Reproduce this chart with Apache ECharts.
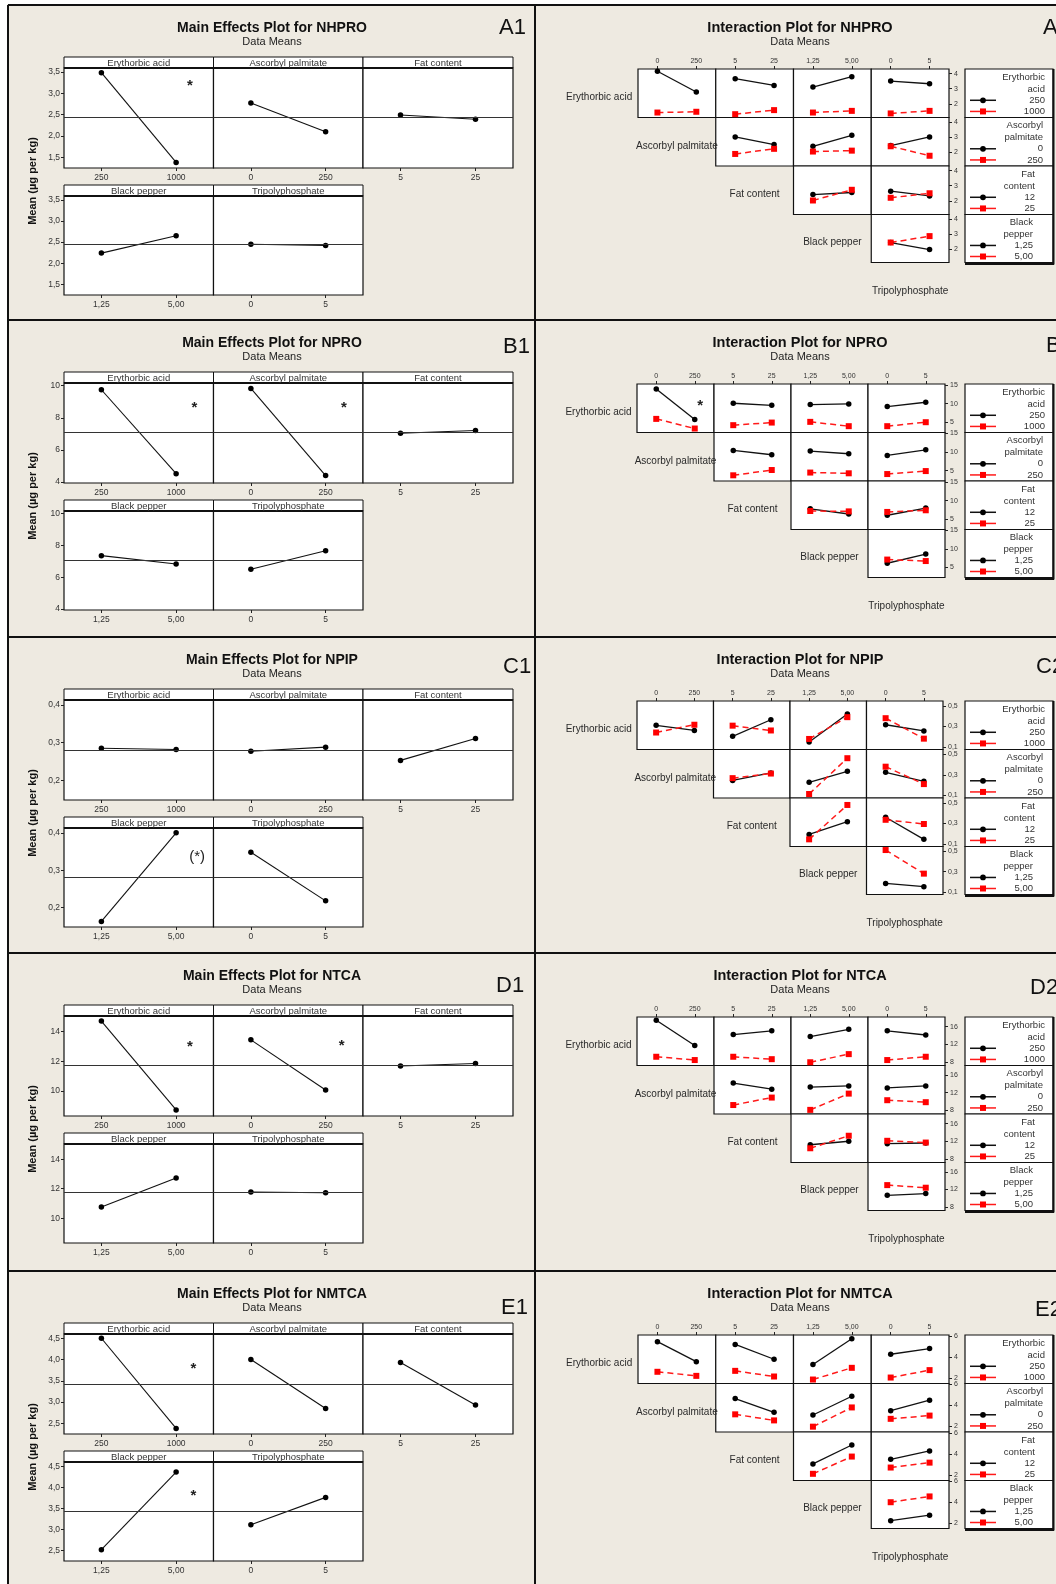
<!DOCTYPE html>
<html>
<head>
<meta charset="utf-8">
<script src="https://cdn.jsdelivr.net/npm/echarts@6/dist/echarts.min.js"></script>
<style>
html,body{margin:0;padding:0;background:#fff;}
#chart{width:1056px;height:1584px;}
</style>
</head>
<body>
<div id="chart"></div>
<script>
// ---------- data ----------
const responses = ['NHPRO', 'NPRO', 'NPIP', 'NTCA', 'NMTCA'];
const panelTags = [['A1', 'A2'], ['B1', 'B2'], ['C1', 'C2'], ['D1', 'D2'], ['E1', 'E2']];
const factorNames = ['Erythorbic acid', 'Ascorbyl palmitate', 'Fat content', 'Black pepper', 'Tripolyphosphate'];
const factorLevels = [['250', '1000'], ['0', '250'], ['5', '25'], ['1,25', '5,00'], ['0', '5']];
const legendTitles = [['Erythorbic', 'acid'], ['Ascorbyl', 'palmitate'], ['Fat', 'content'], ['Black', 'pepper']];
const legendLevels = [['250', '1000'], ['0', '250'], ['12', '25'], ['1,25', '5,00']];
// factor pairs (row factor, column factor) of the interaction matrix
const pairs = [[0, 1], [0, 2], [0, 3], [0, 4], [1, 2], [1, 3], [1, 4], [2, 3], [2, 4], [3, 4]];

// main effects: mean at low / high level of each factor
const mainNHPRO = [[3.48, 1.38], [2.77, 2.10], [2.49, 2.39], [2.24, 2.65], [2.45, 2.42]];
const mainNPRO  = [[9.75, 4.52], [9.83, 4.40], [7.04, 7.21], [7.36, 6.83], [6.51, 7.67]];
const mainNPIP  = [[0.285, 0.282], [0.277, 0.288], [0.253, 0.311], [0.163, 0.400], [0.348, 0.218]];
const mainNTCA  = [[14.69, 8.73], [13.43, 10.07], [11.68, 11.84], [10.76, 12.73], [11.78, 11.73]];
const mainNMTCA = [[4.50, 2.38], [4.00, 2.85], [3.93, 2.93], [2.52, 4.36], [3.11, 3.76]];
const grandMeans = [2.44, 7.10, 0.283, 11.75, 3.43];

// interaction means per pair: [low level of row factor], [high level of row factor]
const interNHPRO = [
  [[4.16, 2.78], [1.42, 1.47]], [[3.67, 3.22], [1.31, 1.58]], [[3.11, 3.80], [1.42, 1.53]], [[3.51, 3.33], [1.36, 1.53]],
  [[3.02, 2.51], [1.89, 2.23]], [[2.40, 3.13], [2.05, 2.11]], [[2.45, 3.02], [2.40, 1.77]],
  [[2.41, 2.55], [2.02, 2.73]], [[2.64, 2.32], [2.20, 2.50]],
  [[2.43, 1.96], [2.43, 2.86]]
];
const interNPRO = [
  [[13.93, 5.71], [5.89, 3.30]], [[10.09, 9.55], [4.20, 4.90]], [[9.73, 9.90], [5.09, 3.93]], [[9.20, 10.36], [3.93, 5.00]],
  [[10.44, 9.29], [3.76, 5.18]], [[10.27, 9.56], [4.50, 4.30]], [[9.10, 10.60], [4.10, 4.90]],
  [[7.80, 6.40], [7.20, 7.10]], [[6.06, 8.00], [6.95, 7.40]],
  [[6.10, 8.60], [7.10, 6.70]]
];
const interNPIP = [
  [[0.310, 0.260], [0.240, 0.316]], [[0.203, 0.365], [0.307, 0.260]], [[0.148, 0.420], [0.177, 0.390]], [[0.316, 0.255], [0.380, 0.180]],
  [[0.246, 0.319], [0.268, 0.313]], [[0.227, 0.335], [0.113, 0.463]], [[0.325, 0.237], [0.380, 0.210]],
  [[0.192, 0.316], [0.144, 0.480]], [[0.360, 0.144], [0.335, 0.294]],
  [[0.183, 0.151], [0.513, 0.280]]
];
const interNTCA = [
  [[17.45, 11.70], [9.15, 8.40]], [[14.20, 15.05], [9.15, 8.60]], [[13.75, 15.40], [7.90, 9.75]], [[15.05, 14.10], [8.40, 9.15]],
  [[14.20, 12.80], [9.20, 10.90]], [[13.30, 13.55], [8.10, 11.80]], [[13.10, 13.55], [10.30, 9.85]],
  [[11.20, 12.00], [10.40, 13.25]], [[11.45, 11.60], [12.10, 11.70]],
  [[10.65, 11.05], [13.00, 12.40]]
];
const interNMTCA = [
  [[5.46, 3.55], [2.58, 2.19]], [[5.20, 3.78], [2.67, 2.13]], [[3.28, 5.74], [1.84, 2.96]], [[4.26, 4.80], [2.03, 2.74]],
  [[4.66, 3.34], [3.15, 2.57]], [[3.09, 4.88], [1.97, 3.81]], [[3.50, 4.50], [2.72, 3.03]],
  [[3.05, 4.86], [2.10, 3.75]], [[3.49, 4.29], [2.70, 3.17]],
  [[2.22, 2.75], [4.00, 4.56]]
];

const mainData = [mainNHPRO, mainNPRO, mainNPIP, mainNTCA, mainNMTCA];
const interData = [interNHPRO, interNPRO, interNPIP, interNTCA, interNMTCA];

// axis extents and tick labels
const mainRange = [[1.25, 3.59], [3.94, 10.17], [0.148, 0.413], [8.32, 15.03], [2.25, 4.60]];
const mainTicks = [[1.5, 2, 2.5, 3, 3.5], [4, 6, 8, 10], [0.2, 0.3, 0.4], [10, 12, 14], [2.5, 3, 3.5, 4, 4.5]];
const mainDecimals = [1, 0, 1, 0, 1];
const interRange = [[1.09, 4.31], [2.23, 15.27], [0.074, 0.548], [7.16, 18.2], [1.46, 6.10]];
const interTicks = [[2, 3, 4], [5, 10, 15], [0.1, 0.3, 0.5], [8, 12, 16], [2, 4, 6]];
const interDecimals = [0, 0, 1, 0, 0];

// significance markers: [response, factor, text]
const sigMain = [[0, 0, '*'], [1, 0, '*'], [1, 1, '*'], [2, 3, '(*)'], [3, 0, '*'], [3, 1, '*'], [4, 0, '*'], [4, 3, '*']];
// [response, pair index, text]
const sigInter = [[1, 0, '*']];

// ---------- layout ----------
const FONT = '"Liberation Sans", Arial, sans-serif';
const ROW_OFF = [0, 315, 632, 948, 1266];
const FRAME_X = [8, 535];
const ME_X = [64, 213.5, 363, 513];
const ME_ROWS = [{ head: 57, top: 68, bottom: 168 }, { head: 185, top: 196, bottom: 295 }];
const IX_LR = [[638, 949], [637, 945], [637, 943], [637, 945], [638, 949]];
const IX_Y = [69, 117.5, 166, 214.5, 262.5];
const LEG_X = [965, 1053];
const LEG_RIGHT = [1045, 1043, 1035, 1033];
const TAG_POS = [[[499, 28], [1043, 28]], [[503, 32], [1046, 31]], [[503, 35], [1036, 35]], [[496, 38], [1030, 40]], [[501, 42], [1035, 44]]];
const SIG_MAIN_POS = [[0.843, 14], [0.873, 21], [0.873, 21], [0.89, 29], [0.843, 27], [0.857, 26], [0.866, 31], [0.866, 30]];
const SIG_INTER_POS = [[0.82, 18]];

const grid = [], xAxis = [], yAxis = [], series = [], graphic = [];

function text(x, y, str, font, opts) {
  opts = opts || {};
  graphic.push({
    type: 'text', x: x, y: y, rotation: opts.rotation || 0, z: opts.z || 60, silent: true,
    style: { text: str, font: font, fill: opts.fill || '#1a1a1a', align: opts.align || 'center', verticalAlign: opts.valign || 'middle' }
  });
}
function rect(x, y, w, h, fill, stroke, lw, z) {
  graphic.push({ type: 'rect', z: z || 40, silent: true, shape: { x: x, y: y, width: w, height: h }, style: { fill: fill, stroke: stroke, lineWidth: lw } });
}
function line(x1, y1, x2, y2, stroke, lw, z, dash) {
  graphic.push({ type: 'line', z: z || 80, silent: true, shape: { x1: x1, y1: y1, x2: x2, y2: y2 }, style: { stroke: stroke, lineWidth: lw, lineDash: dash || null } });
}
function addGrid(left, top, width, height) {
  grid.push({ left: left, top: top, width: width, height: height, show: true, backgroundColor: '#fff', borderColor: '#111', borderWidth: 1.2, containLabel: false, outerBoundsMode: 'none' });
  return grid.length - 1;
}
const fmt = (v, d) => v.toFixed(d).replace('.', ',');

// ---------- main effects panels ----------
function mainPanel(r, f) {
  const off = ROW_OFF[r];
  const rowL = f < 3 ? ME_ROWS[0] : ME_ROWS[1];
  const col = f < 3 ? f : f - 3;
  const left = ME_X[col], width = ME_X[col + 1] - ME_X[col];
  const top = off + rowL.top, height = rowL.bottom - rowL.top;
  const gi = addGrid(left, top, width, height);
  const showY = col === 0;
  xAxis.push({
    type: 'category', gridIndex: gi, data: factorLevels[f], boundaryGap: true,
    axisLine: { show: false }, splitLine: { show: false },
    axisTick: { show: true, alignWithLabel: true, length: 3, lineStyle: { color: '#222' } },
    axisLabel: { fontSize: 8.5, color: '#333', margin: 5, fontFamily: FONT }
  });
  yAxis.push({
    type: 'value', gridIndex: gi, min: mainRange[r][0], max: mainRange[r][1],
    axisLine: { show: false }, splitLine: { show: false },
    axisTick: { show: showY, length: 3, customValues: mainTicks[r], lineStyle: { color: '#222' } },
    axisLabel: { show: showY, customValues: mainTicks[r], fontSize: 8.5, color: '#333', margin: 4, fontFamily: FONT,
      formatter: v => fmt(v, mainDecimals[r]) }
  });
  series.push({
    type: 'line', xAxisIndex: gi, yAxisIndex: gi, data: mainData[r][f],
    symbol: 'circle', symbolSize: 5.5, showSymbol: true,
    lineStyle: { color: '#111', width: 1.1 }, itemStyle: { color: '#000' },
    markLine: { silent: true, symbol: 'none', label: { show: false }, animation: false,
      lineStyle: { color: '#333', width: 1.1, type: 'solid' }, data: [{ yAxis: grandMeans[r] }] }
  });
  // factor header strip
  rect(left, off + rowL.head, width, rowL.top - rowL.head, '#fff', '#111', 1, 45);
  line(left, off + rowL.top, left + width, off + rowL.top, '#111', 1.8, 46);
  text(left + width / 2, off + (rowL.head + rowL.top) / 2 + 0.5, factorNames[f], '9.5px ' + FONT, { fill: '#333' });
}

// ---------- interaction matrix ----------
function interPanel(r, k) {
  const off = ROW_OFF[r];
  const [i, j] = pairs[k];
  const L = IX_LR[r][0], cw = (IX_LR[r][1] - IX_LR[r][0]) / 4;
  const left = L + (j - 1) * cw;
  const top = off + IX_Y[i], height = IX_Y[i + 1] - IX_Y[i];
  const gi = addGrid(left, top, cw, height);
  const showX = i === 0, showY = j === 4;
  xAxis.push({
    type: 'category', gridIndex: gi, data: factorLevels[j], boundaryGap: true, position: 'top',
    axisLine: { show: false }, splitLine: { show: false },
    axisTick: { show: showX, alignWithLabel: true, length: 3, lineStyle: { color: '#222' } },
    axisLabel: { show: showX, fontSize: 7, color: '#333', margin: 4, fontFamily: FONT }
  });
  yAxis.push({
    type: 'value', gridIndex: gi, position: 'right', min: interRange[r][0], max: interRange[r][1],
    axisLine: { show: false }, splitLine: { show: false },
    axisTick: { show: showY, length: 3, customValues: interTicks[r], lineStyle: { color: '#222' } },
    axisLabel: { show: showY, customValues: interTicks[r], fontSize: 7, color: '#333', margin: 5, fontFamily: FONT,
      formatter: v => fmt(v, interDecimals[r]) }
  });
  series.push({
    type: 'line', xAxisIndex: gi, yAxisIndex: gi, data: interData[r][k][0],
    symbol: 'circle', symbolSize: 5.5, lineStyle: { color: '#111', width: 1.3 }, itemStyle: { color: '#000' }
  });
  series.push({
    type: 'line', xAxisIndex: gi, yAxisIndex: gi, data: interData[r][k][1],
    symbol: 'rect', symbolSize: 6, lineStyle: { color: '#ff1a1a', width: 1.5, type: [6, 4] }, itemStyle: { color: '#ff0000' }
  });
}

function interLegend(r) {
  const off = ROW_OFF[r];
  for (let i = 0; i < 4; i++) {
    const bt = off + IX_Y[i], h = IX_Y[i + 1] - IX_Y[i];
    rect(LEG_X[0], bt, LEG_X[1] - LEG_X[0], h, '#fff', '#111', 1.2, 45);
    const rx = LEG_RIGHT[i];
    const ys = [bt + h * 0.17, bt + h * 0.41, bt + h * 0.645, bt + h * 0.875];
    const f = '9.5px ' + FONT;
    text(rx, ys[0], legendTitles[i][0], f, { align: 'right', fill: '#333' });
    text(rx, ys[1], legendTitles[i][1], f, { align: 'right', fill: '#333' });
    text(rx, ys[2], legendLevels[i][0], f, { align: 'right', fill: '#333' });
    text(rx, ys[3], legendLevels[i][1], f, { align: 'right', fill: '#333' });
    line(970, ys[2], 996, ys[2], '#111', 1.5, 50);
    graphic.push({ type: 'circle', z: 51, silent: true, shape: { cx: 983, cy: ys[2], r: 2.9 }, style: { fill: '#000' } });
    line(970, ys[3], 996, ys[3], '#ff1a1a', 1.5, 50);
    graphic.push({ type: 'rect', z: 51, silent: true, shape: { x: 980, y: ys[3] - 3, width: 6, height: 6 }, style: { fill: '#ff0000' } });
  }
  line(LEG_X[0], off + IX_Y[4] + 1, LEG_X[1] + 1, off + IX_Y[4] + 1, '#111', 3, 52);
  line(LEG_X[1] + 0.5, off + IX_Y[0], LEG_X[1] + 0.5, off + IX_Y[4] + 2, '#111', 2, 52);
}

// ---------- assemble ----------
responses.forEach((resp, r) => {
  const off = ROW_OFF[r];
  // main effects block
  text(272, off + 28, 'Main Effects Plot for ' + resp, 'bold 14px ' + FONT, { fill: '#111' });
  text(272, off + 42, 'Data Means', '11px ' + FONT, { fill: '#222' });
  text(TAG_POS[r][0][0], off + TAG_POS[r][0][1], panelTags[r][0], '22px ' + FONT, { align: 'left', fill: '#111' });
  text(33, off + 181, 'Mean (µg per kg)', 'bold 11px ' + FONT, { rotation: Math.PI / 2, fill: '#111' });
  for (let f = 0; f < 5; f++) mainPanel(r, f);

  // interaction block
  text(800, off + 28, 'Interaction Plot for ' + resp, 'bold 14.5px ' + FONT, { fill: '#111' });
  text(800, off + 42, 'Data Means', '11px ' + FONT, { fill: '#222' });
  text(TAG_POS[r][1][0], off + TAG_POS[r][1][1], panelTags[r][1], '22px ' + FONT, { align: 'left', fill: '#111' });
  pairs.forEach((p, k) => interPanel(r, k));
  const L = IX_LR[r][0], cw = (IX_LR[r][1] - IX_LR[r][0]) / 4;
  for (let i = 0; i < 5; i++) {
    const cy = i < 4 ? off + (IX_Y[i] + IX_Y[i + 1]) / 2 + 4 : off + 291;
    text(L + (i - 0.5) * cw, cy, factorNames[i], '10px ' + FONT, { fill: '#2a2a2a', z: 70 });
  }
  interLegend(r);
});

sigMain.forEach((s, n) => {
  const [r, f, t] = s;
  const col = f < 3 ? f : f - 3;
  const rowL = f < 3 ? ME_ROWS[0] : ME_ROWS[1];
  const x = ME_X[col] + SIG_MAIN_POS[n][0] * (ME_X[col + 1] - ME_X[col]);
  const y = ROW_OFF[r] + rowL.top + SIG_MAIN_POS[n][1];
  if (t === '*') text(x, y + 4, t, 'bold 15px ' + FONT, { fill: '#222', z: 70 });
  else text(x, y, t, '15px ' + FONT, { fill: '#222', z: 70 });
});
sigInter.forEach((s, n) => {
  const [r, k, t] = s;
  const [i, j] = pairs[k];
  const L = IX_LR[r][0], cw = (IX_LR[r][1] - IX_LR[r][0]) / 4;
  const x = L + (j - 1 + SIG_INTER_POS[n][0]) * cw;
  const y = ROW_OFF[r] + IX_Y[i] + SIG_INTER_POS[n][1];
  text(x, y + 4, t, 'bold 15px ' + FONT, { fill: '#222', z: 70 });
});

// panel frames
const frameY = ROW_OFF.map(o => o + 5);
frameY.forEach(y => line(FRAME_X[0], y, 1056, y, '#111', 2, 90));
FRAME_X.forEach(x => line(x, frameY[0], x, 1584, '#111', 2, 90));
rect(0, 0, 1056, frameY[0] - 1, '#fff', null, 0, 85);
rect(0, 0, FRAME_X[0] - 1, 1584, '#fff', null, 0, 85);

const chart = echarts.init(document.getElementById('chart'), null, { renderer: 'canvas' });
chart.setOption({
  backgroundColor: '#EEEAE1',
  animation: false,
  grid: grid, xAxis: xAxis, yAxis: yAxis, series: series, graphic: graphic
});
</script>
</body>
</html>
